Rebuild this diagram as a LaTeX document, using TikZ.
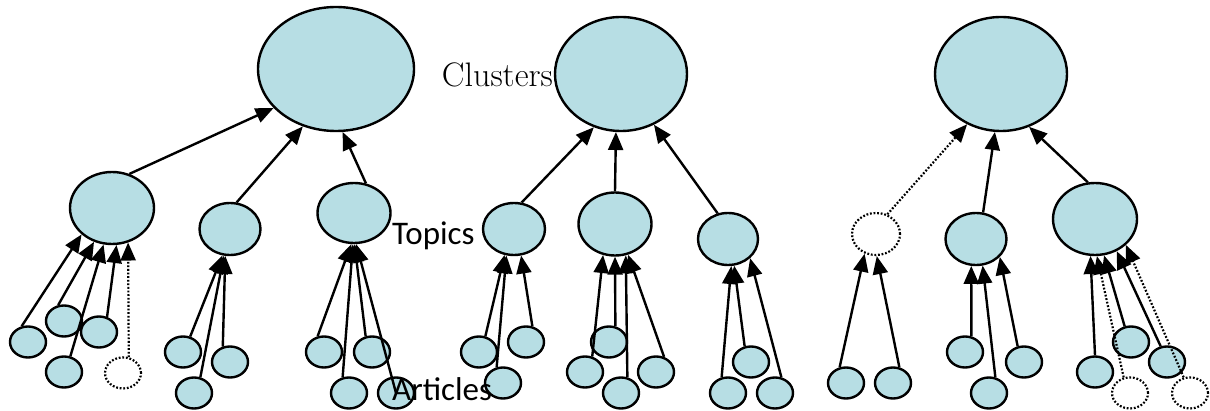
\documentclass[tikz,border=0pt]{standalone}
\usepackage{fontspec}
\newfontfamily\calib{Carlito}
\usetikzlibrary{shapes.geometric,arrows.meta}
\definecolor{nodefill}{RGB}{183,222,228}
\begin{document}
\begin{tikzpicture}[x=1pt,y=-1pt,
  blob/.style={ellipse,draw=black,line width=2.4pt,fill=nodefill,inner sep=0pt},
  art/.style={blob,minimum width=36pt,minimum height=31pt},
  ghostart/.style={ellipse,draw=black,line width=2.2pt,dash pattern=on 1.8pt off 1.8pt,fill=white,inner sep=0pt,minimum width=36pt,minimum height=31pt},
  link/.style={line width=2.4pt,-{Triangle[length=18pt,width=15pt]}},
  dlink/.style={line width=2.2pt,dash pattern=on 1.8pt off 1.8pt,-{Triangle[length=18pt,width=15pt]}},
  lbl/.style={inner sep=0pt}]
\useasboundingbox (0,0) rectangle (1210,411);
% clusters
\node[blob,minimum width=156pt,minimum height=124pt] (C1) at (336,69) {};
\node[blob,minimum width=132pt,minimum height=114pt] (C2) at (621,74) {};
\node[blob,minimum width=132pt,minimum height=114pt] (C3) at (1001,74) {};
% topics
\node[blob,minimum width=84pt,minimum height=72pt] (T1) at (112,208) {};
\node[blob,minimum width=61pt,minimum height=52pt] (T2) at (230,229) {};
\node[blob,minimum width=73pt,minimum height=60pt] (T3) at (354,213) {};
\node[blob,minimum width=62pt,minimum height=52pt] (T4) at (514,229) {};
\node[blob,minimum width=73pt,minimum height=63pt] (T5) at (615,224) {};
\node[blob,minimum width=60pt,minimum height=52pt] (T6) at (728,239) {};
\node[ghostart,minimum width=48pt,minimum height=42pt] (T7) at (876,234) {};
\node[blob,minimum width=61pt,minimum height=52pt] (T8) at (976,239) {};
\node[blob,minimum width=84pt,minimum height=72pt] (T9) at (1095,219) {};
% articles
\node[art] (a1) at (28,342) {};
\node[art] (a2) at (64,321) {};
\node[art] (a3) at (99,332) {};
\node[art] (a4) at (64,372) {};
\node[ghostart] (a5) at (123,373) {};
\node[art] (a6) at (183,352) {};
\node[art] (a7) at (194,393) {};
\node[art] (a8) at (230,362) {};
\node[art] (a9) at (324,352) {};
\node[art] (a10) at (349,393) {};
\node[art] (a11) at (372,352) {};
\node[art] (a12) at (396,393) {};
\node[art] (b1) at (479,352) {};
\node[art] (b2) at (503,383) {};
\node[art] (b3) at (526,342) {};
\node[art] (b4) at (609,342) {};
\node[art] (b5) at (585,372) {};
\node[art] (b6) at (621,393) {};
\node[art] (b7) at (656,372) {};
\node[art] (b8) at (728,393) {};
\node[art] (b9) at (751,362) {};
\node[art] (b10) at (775,393) {};
\node[art] (c1) at (846,383) {};
\node[art] (c2) at (893,383) {};
\node[art] (c3) at (965,352) {};
\node[art] (c4) at (989,393) {};
\node[art] (c5) at (1024,362) {};
\node[art] (c6) at (1095,372) {};
\node[art] (c7) at (1131,342) {};
\node[art] (c8) at (1167,362) {};
\node[ghostart] (c9) at (1130,393) {};
\node[ghostart] (c10) at (1190,393) {};
% labels
\node[lbl,anchor=base east,font=\rmfamily\fontsize{34}{40}\selectfont] (lc) at (553,87) {Clusters};
\node[lbl,anchor=base west,font=\calib\fontsize{33}{38}\selectfont] (lt) at (392,245) {Topics};
\node[lbl,anchor=base west,font=\calib\fontsize{33}{38}\selectfont] (la) at (392,400) {Articles};
% topic -> cluster
\draw[link] (T1.63) -- (C1.212);
\draw[link] (T2.76) -- (C1.240);
\draw[link] (T3.68) -- (C1.276);
\draw[link] (T4.74) -- (C2.243);
\draw[link] (T5.90) -- (C2.265);
\draw[link] (T6.112) -- (C2.303);
\draw[dlink] (T7.60) -- (C3.236);
\draw[link] (T8.75) -- (C3.264);
\draw[link] (T9.101) -- (C3.298);
% article -> topic
\draw[link] (a1.112) -- (T1.221);
\draw[link] (a2.110) -- (T1.242);
\draw[link] (a4.68) -- (T1.257);
\draw[link] (a3.62) -- (T1.277);
\draw[dlink] (a5.70) -- (T1.295);
\draw[link] (a6.65) -- (T2.254);
\draw[link] (a7.68) -- (T2.257);
\draw[link] (a8.115) -- (T2.260);
\draw[link] (a9.112) -- (T3.265);
\draw[link] (a10.112) -- (T3.268);
\draw[link] (a11.112) -- (T3.271);
\draw[link] (a12.center) -- (T3.274);
\draw[link] (b1.68) -- (T4.250);
\draw[link] (b2.112) -- (T4.254);
\draw[link] (b3.68) -- (T4.285);
\draw[link] (b5.65) -- (T5.249);
\draw[link] (b4.68) -- (T5.270);
\draw[link] (b6.68) -- (T5.289);
\draw[link] (b7.62) -- (T5.293);
\draw[link] (b8.112) -- (T6.277);
\draw[link] (b9.112) -- (T6.283);
\draw[link] (b10.68) -- (T6.319);
\draw[link] (c1.112) -- (T7.240);
\draw[link] (c2.68) -- (T7.272);
\draw[link] (c3.68) -- (T8.260);
\draw[link] (c4.68) -- (T8.284);
\draw[link] (c5.112) -- (T8.323);
\draw[link] (c6.90) -- (T9.263);
\draw[dlink] (c9.112) -- (T9.273);
\draw[link] (c7.112) -- (T9.284);
\draw[link] (c8.112) -- (T9.304);
\draw[dlink] (c10.112) -- (T9.320);
\end{tikzpicture}
\end{document}
